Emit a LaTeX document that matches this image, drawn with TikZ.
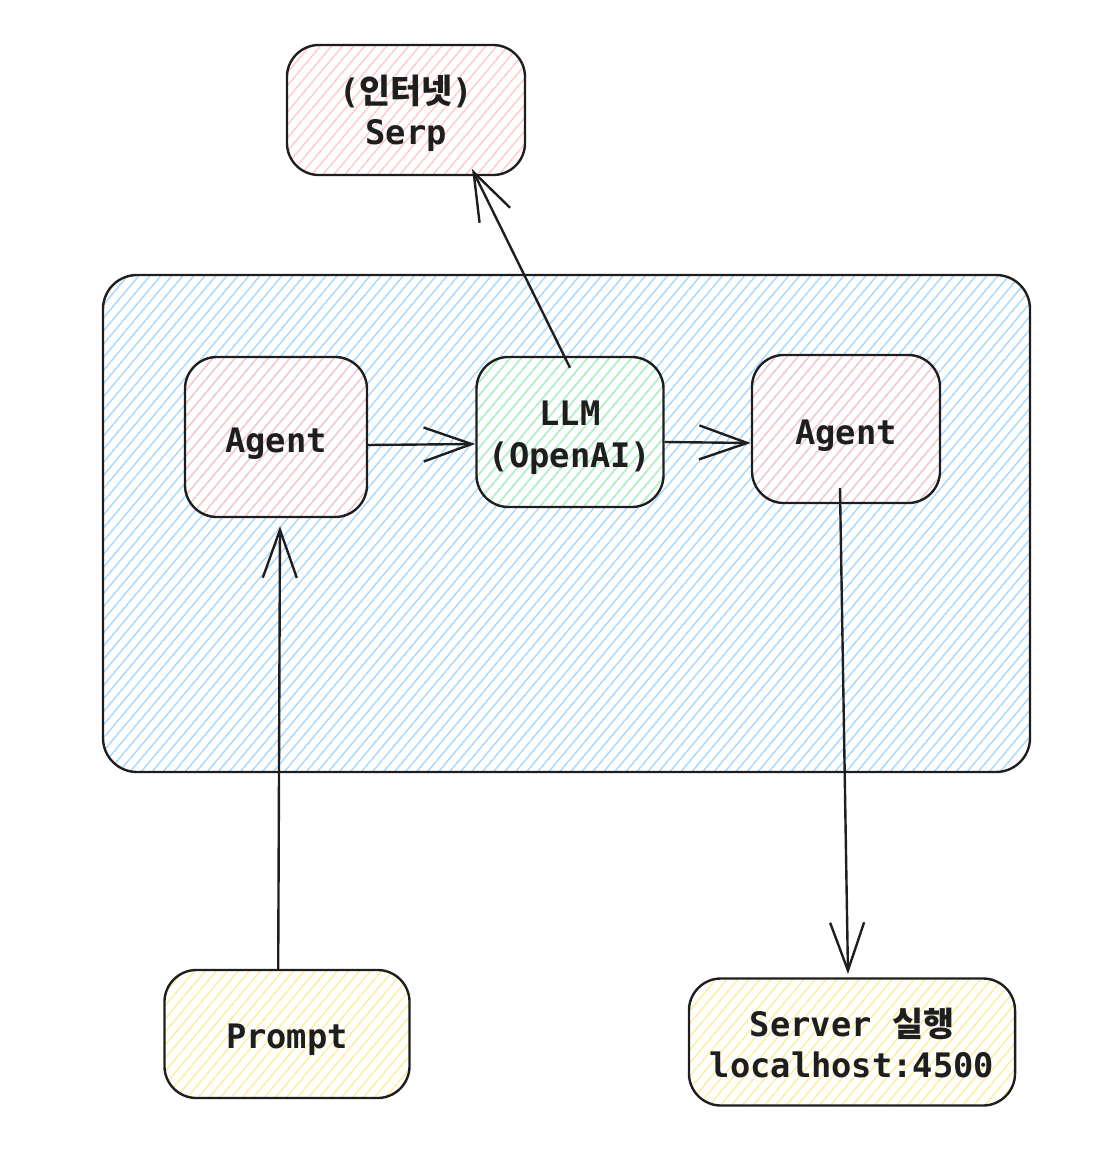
\documentclass[tikz,border=0pt]{standalone}
\usepackage{fontspec}
\setmonofont{DejaVu Sans Mono}
\newfontfamily\kr{Noto Sans CJK KR}
\usetikzlibrary{arrows.meta,patterns.meta}
\definecolor{ink}{HTML}{1E1E1E}
\definecolor{hblue}{HTML}{A5D8FF}
\definecolor{hred}{HTML}{FFC9C9}
\definecolor{hgreen}{HTML}{B2F2BB}
\definecolor{hyellow}{HTML}{FFEC99}
\tikzset{
  hatch/.style={pattern={Lines[angle=50,distance=6pt,line width=1pt]}},
  box/.style={draw=ink, line width=1.7pt, rounded corners=0.8cm, hatch},
  txt/.style={align=center, inner sep=0pt, text=ink,
    font=\ttfamily\bfseries\fontsize{24}{29.5}\selectfont},
  arr/.style={draw=ink, line width=1.7pt,
    -{Straight Barb[length=1.2cm,width=0.85cm]}}
}
\newcommand{\drawBox}[8]{
    \node[box, pattern color=#6, minimum width=#4cm, minimum height=#5cm]
      (#1) at (#2,#3) {};
    \node[txt] (#1-txt) at ([yshift=-#7cm]#1.center) {#8};
}

\begin{document}
\begin{tikzpicture}[x={(0.025cm,0)}, y={(0,-0.025cm)}]
\useasboundingbox (0,0) rectangle (1096,1150);

% Container
\draw[draw=ink, line width=1.7pt, rounded corners=0.85cm, hatch, pattern color=hblue]
  (103,275) rectangle (1030,772);

% Boxes
\drawBox{serp}{406}{110}{5.95}{3.25}{hred}{0.08}{({\kr 인터넷})\\Serp}
\drawBox{agentA}{276}{437}{4.55}{4}{hred}{0.16}{Agent}
\drawBox{llm}{570}{432}{4.675}{3.75}{hgreen}{0.14}{LLM\\(OpenAI)}
\drawBox{agentB}{846}{429}{4.7}{3.7}{hred}{0.16}{Agent}
\drawBox{prompt}{287}{1034}{6.125}{3.2}{hyellow}{0.14}{Prompt}
\drawBox{server}{852}{1042}{8.15}{3.175}{hyellow}{0.03}{Server {\kr 실행}\\localhost:4500}

% Arrows
\draw[arr] ([yshift=-0.2cm]agentA.east) -- ([yshift=-0.3cm]llm.west);
\draw[arr] ([yshift=-0.25cm]llm.east) -- ([yshift=-0.35cm]agentB.west);
\draw[arr] ([yshift=-0.3cm]llm.north) -- ([xshift=1.65cm,yshift=0.18cm]serp.south);
\draw[arr] ([xshift=-0.22cm]prompt.north) -- ([xshift=0.1cm,yshift=-0.2cm]agentA.south);
\draw[arr] ([xshift=-0.15cm,yshift=0.4cm]agentB.south) -- ([xshift=-0.1cm,yshift=0.08cm]server.north);

\end{tikzpicture}
\end{document}
